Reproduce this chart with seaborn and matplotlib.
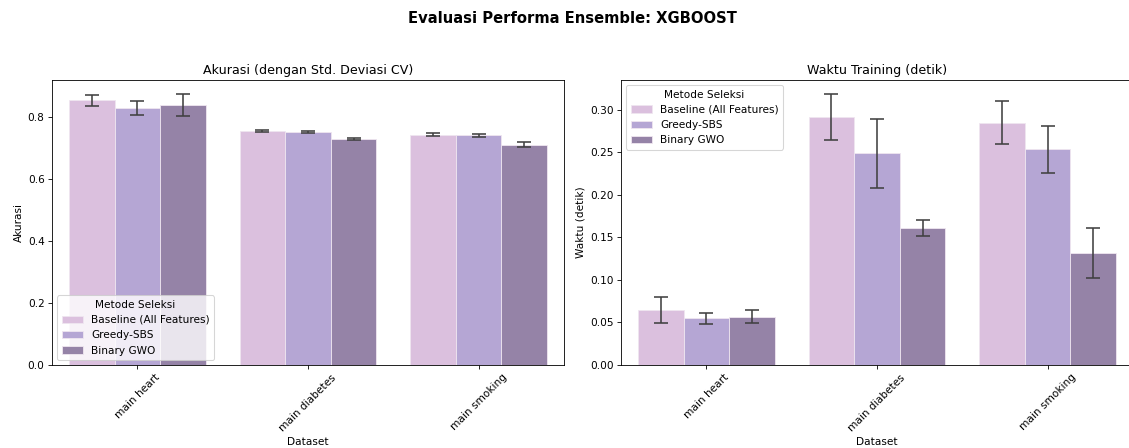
import matplotlib
matplotlib.use("Agg")
import matplotlib.pyplot as plt
import seaborn as sns
import pandas as pd

datasets = ["main heart", "main diabetes", "main smoking"]
methods = ["Baseline (All Features)", "Greedy-SBS", "Binary GWO"]

acc_baseline = [0.852, 0.754, 0.742]
acc_greedy = [0.828, 0.749, 0.739]
acc_gwo = [0.838, 0.729, 0.710]
acc_std_baseline = [0.017, 0.004, 0.005]
acc_std_greedy = [0.023, 0.003, 0.004]
acc_std_gwo = [0.036, 0.003, 0.009]

time_baseline = [0.065, 0.292, 0.285]
time_greedy = [0.055, 0.249, 0.2535]
time_gwo = [0.057, 0.161, 0.132]
time_std_baseline = [0.0155, 0.027, 0.025]
time_std_greedy = [0.0067, 0.0405, 0.0277]
time_std_gwo = [0.0072, 0.009, 0.0295]

palette = ["#dbc0de", "#b5a6d4", "#9583a7"]


def build_frame(vals, stds):
    rows = []
    for m, v, s in zip(methods, vals, stds):
        for d, vv, ss in zip(datasets, v, s):
            rows.append({"Dataset": d, "Metode Seleksi": m, "value": vv, "std": ss})
    return pd.DataFrame(rows)


acc_df = build_frame([acc_baseline, acc_greedy, acc_gwo],
                     [acc_std_baseline, acc_std_greedy, acc_std_gwo])
time_df = build_frame([time_baseline, time_greedy, time_gwo],
                      [time_std_baseline, time_std_greedy, time_std_gwo])

plt.rcParams["font.family"] = ["DejaVu Sans"]

DPI = 76
W, H = 1129, 448
fig = plt.figure(figsize=(W / DPI, H / DPI), dpi=DPI)
ax1 = fig.add_axes([52 / W, 1 - 365 / H, 512 / W, 285 / H])
ax2 = fig.add_axes([621 / W, 1 - 365 / H, 512 / W, 285 / H])


def draw(ax, df, title, ylabel, legend_loc):
    sns.barplot(data=df, x="Dataset", y="value", hue="Metode Seleksi",
                order=datasets, hue_order=methods, palette=palette,
                saturation=1, errorbar=None, ax=ax,
                edgecolor="#efe6f0", linewidth=0.8)
    # error bars at the centre of each drawn bar, in hue/order sequence
    patches = [p for p in ax.patches if p.get_height() > 0]
    ordered = df.set_index(["Metode Seleksi", "Dataset"])
    k = 0
    for m in methods:
        for d in datasets:
            p = patches[k]
            k += 1
            cx = p.get_x() + p.get_width() / 2
            ax.errorbar(cx, ordered.loc[(m, d), "value"],
                        yerr=ordered.loc[(m, d), "std"],
                        fmt="none", ecolor="#404040", elinewidth=1.5,
                        capsize=6.5, capthick=1.5)
    ax.set_xlim(-0.5, len(datasets) - 0.5)
    ax.set_title(title, fontsize=12)
    ax.set_ylabel(ylabel)
    ax.set_xlabel("Dataset")
    ax.tick_params(axis="x", rotation=45)
    ax.legend(title="Metode Seleksi", loc=legend_loc)


draw(ax1, acc_df, "Akurasi (dengan Std. Deviasi CV)", "Akurasi", "lower left")
draw(ax2, time_df, "Waktu Training (detik)", "Waktu (detik)", "upper left")

fig.suptitle("Evaluasi Performa Ensemble: XGBOOST", fontsize=14,
             fontweight="bold", x=572.5 / W, y=0.975)

fig.savefig("out.png", dpi=DPI)
